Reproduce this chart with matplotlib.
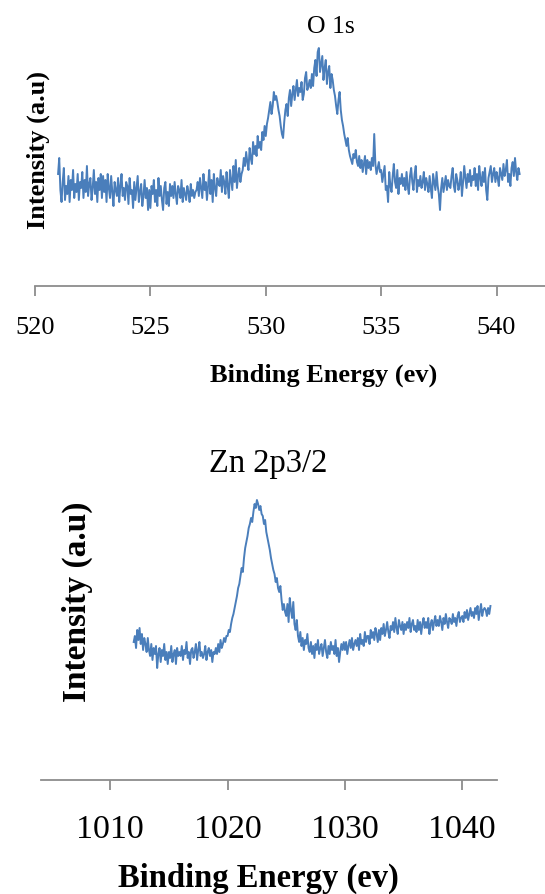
import numpy as np
import matplotlib
matplotlib.use("Agg")
import matplotlib.pyplot as plt

# ---------------- data ----------------
# O 1s spectrum: binding energy 521.0 .. 541.0 eV, 0.05 eV step (intensity, a.u.)
o1s_start, o1s_step = 521.0, 0.05
o1s_intensity = [
    112, 128, 96, 84, 104, 118, 86, 100, 92, 110, 84, 106, 96, 116, 88, 102, 94, 112, 86, 104,
    98, 114, 88, 106, 94, 120, 90, 102, 108, 86, 98, 116, 92, 104, 84, 108, 96, 112, 88, 110,
    94, 106, 84, 112, 98, 88, 110, 94, 80, 104, 96, 90, 108, 84, 100, 112, 90, 98, 86, 104,
    100, 82, 108, 92, 96, 78, 104, 86, 98, 110, 84, 94, 102, 80, 90, 106, 88, 98, 76, 96,
    78, 100, 92, 106, 84, 96, 80, 108, 90, 100, 86, 76, 98, 104, 82, 94, 80, 102, 90, 100,
    88, 104, 92, 82, 100, 96, 88, 106, 84, 98, 92, 86, 100, 94, 84, 102, 90, 96, 88, 94,
    96, 104, 90, 108, 98, 88, 112, 96, 104, 86, 100, 116, 92, 106, 84, 112, 98, 90, 108, 102,
    100, 116, 94, 110, 104, 92, 114, 100, 88, 116, 106, 96, 120, 104, 126, 98, 110, 118, 104, 112,
    116, 128, 120, 134, 124, 116, 138, 128, 122, 144, 132, 140, 130, 150, 138, 144, 136, 154, 146, 160,
    150, 162, 168, 176, 184, 172, 180, 194, 186, 190, 184, 176, 170, 160, 152, 148, 164, 176, 182, 170,
    188, 196, 180, 192, 200, 186, 196, 206, 190, 198, 194, 204, 186, 192, 208, 214, 196, 200, 206, 198,
    212, 200, 218, 226, 210, 234, 238, 214, 222, 230, 206, 218, 226, 202, 214, 220, 198, 212, 206, 196,
    190, 180, 172, 186, 194, 176, 166, 160, 152, 146, 140, 148, 136, 130, 126, 122, 132, 128, 136, 124,
    120, 130, 118, 126, 114, 122, 130, 112, 126, 118, 124, 116, 128, 120, 152, 122, 112, 118, 124, 114,
    116, 104, 112, 120, 96, 100, 84, 114, 100, 94, 110, 122, 104, 98, 116, 92, 108, 102, 112, 100,
    108, 96, 114, 100, 92, 110, 118, 104, 96, 112, 120, 94, 106, 100, 110, 98, 104, 114, 96, 108,
    102, 94, 110, 98, 88, 112, 104, 96, 114, 100, 92, 76, 98, 108, 94, 102, 110, 96, 106, 100,
    98, 110, 118, 100, 94, 112, 106, 96, 102, 114, 90, 104, 120, 108, 98, 112, 104, 116, 100, 110,
    106, 118, 100, 112, 96, 120, 108, 100, 114, 104, 118, 96, 86, 108, 114, 120, 104, 112, 118, 104,
    114, 108, 100, 118, 112, 106, 122, 110, 116, 126, 104, 112, 100, 118, 124, 110, 128, 114, 106, 118,
    112,
]
o1s_ticks = [520, 525, 530, 535, 540]

# Zn 2p3/2 spectrum: binding energy 1012.0 .. 1042.4 eV, 0.1 eV step
zn_start, zn_step = 1012.0, 0.1
zn_intensity = [
    138, 144, 132, 150, 140, 152, 136, 146, 130, 142,
    136, 128, 142, 130, 124, 136, 120, 132, 126, 134,
    112, 126, 132, 118, 130, 124, 136, 120, 128, 116,
    128, 122, 134, 118, 126, 130, 116, 132, 124, 128,
    124, 134, 120, 130, 126, 138, 122, 128, 116, 130,
    132, 122, 128, 136, 120, 130, 138, 124, 128, 122,
    126, 134, 120, 128, 132, 124, 130, 118, 128, 126,
    132, 126, 136, 128, 140, 132, 136, 142, 138, 144,
    144, 150, 148, 156, 162, 166, 172, 178, 184, 192,
    196, 204, 212, 208, 222, 232, 238, 244, 252, 256,
    262, 258, 268, 276, 272, 280, 276, 270, 274, 266,
    264, 256, 260, 248, 242, 236, 230, 222, 216, 210,
    206, 198, 202, 192, 188, 194, 180, 170, 176, 168,
    164, 176, 158, 182, 170, 162, 178, 156, 150, 160,
    144, 138, 148, 134, 142, 130, 140, 136, 146, 132,
    128, 138, 126, 134, 122, 136, 130, 140, 126, 132,
    136, 124, 132, 140, 128, 122, 134, 126, 138, 130,
    134, 126, 140, 124, 132, 118, 128, 136, 130, 138,
    130, 138, 126, 134, 140, 132, 142, 130, 136, 140,
    134, 142, 130, 146, 136, 140, 134, 148, 138, 144,
    144, 136, 150, 142, 148, 140, 152, 146, 138, 150,
    140, 152, 146, 156, 144, 150, 158, 148, 142, 154,
    150, 158, 148, 162, 152, 146, 160, 154, 150, 158,
    146, 156, 150, 158, 152, 162, 148, 156, 160, 150,
    154, 148, 160, 150, 158, 146, 156, 162, 152, 158,
    152, 162, 146, 156, 160, 150, 158, 164, 154, 160,
    154, 164, 158, 150, 162, 156, 166, 158, 152, 162,
    160, 156, 166, 158, 162, 154, 164, 168, 158, 162,
    164, 158, 168, 162, 170, 160, 166, 172, 164, 168,
    162, 172, 166, 174, 160, 168, 176, 164, 170, 172,
    170, 164, 172, 166, 174,
]
zn_ticks = [1010, 1020, 1030, 1040]

o1s_energy = o1s_start + o1s_step * np.arange(len(o1s_intensity))
zn_energy = zn_start + zn_step * np.arange(len(zn_intensity))

# ---------------- style ----------------
W, H = 545, 894
fig = plt.figure(figsize=(W / 100, H / 100), dpi=100)
serif = ["Liberation Serif", "DejaVu Serif"]
line_color = "#4a7ebb"
axis_color = "#8c8c8c"


def px_axes(l, r, t, b):
    return fig.add_axes([l / W, 1 - b / H, (r - l) / W, (b - t) / H])


def style(ax, ticks, fs, pad):
    for s in ["top", "right", "left"]:
        ax.spines[s].set_visible(False)
    ax.spines["bottom"].set_color(axis_color)
    ax.spines["bottom"].set_linewidth(1.3)
    ax.set_yticks([])
    ax.set_xticks(ticks)
    ax.tick_params(axis="x", direction="out", length=7.5, width=1.3,
                   color=axis_color, pad=pad, labelsize=fs)
    for lab in ax.get_xticklabels():
        lab.set_family(serif)
        lab.set_color("black")


# ---- top panel: O 1s ----
ax1 = px_axes(35, 545, 40, 286)
ax1.plot(o1s_energy, o1s_intensity, color=line_color, lw=1.4)
ax1.set_xlim(520, 542.1)
ax1.set_ylim(0, 246)
style(ax1, o1s_ticks, 19, 15)
ax1.text(0.58, 1.0285, "O 1s", transform=ax1.transAxes, ha="center", va="baseline",
         fontsize=18.5, family=serif)
ax1.text(0.565, -0.390, "Binding Energy (ev)", transform=ax1.transAxes,
         ha="center", va="baseline", fontsize=19, fontweight="bold", family=serif)
ax1.text(0.006, 0.553, "Intensity (a.u)", transform=ax1.transAxes, rotation=90,
         ha="center", va="center", fontsize=19, fontweight="bold", family=serif)

# ---- bottom panel: Zn 2p3/2 ----
ax2 = px_axes(41, 497, 480, 780)
ax2.plot(zn_energy, zn_intensity, color=line_color, lw=1.4)
ax2.set_xlim(1004.1, 1042.96)
ax2.set_ylim(0, 300)
style(ax2, zn_ticks, 24.5, 17)
ax2.text(0.498, 1.0267, "Zn 2p3/2", transform=ax2.transAxes, ha="center", va="baseline",
         fontsize=23.5, family=serif)
ax2.text(0.476, -0.357, "Binding Energy (ev)", transform=ax2.transAxes,
         ha="center", va="baseline", fontsize=23.5, fontweight="bold", family=serif)
ax2.text(0.079, 0.593, "Intensity (a.u)", transform=ax2.transAxes, rotation=90,
         ha="center", va="center", fontsize=24, fontweight="bold", family=serif)

fig.savefig("out.png", dpi=100)
